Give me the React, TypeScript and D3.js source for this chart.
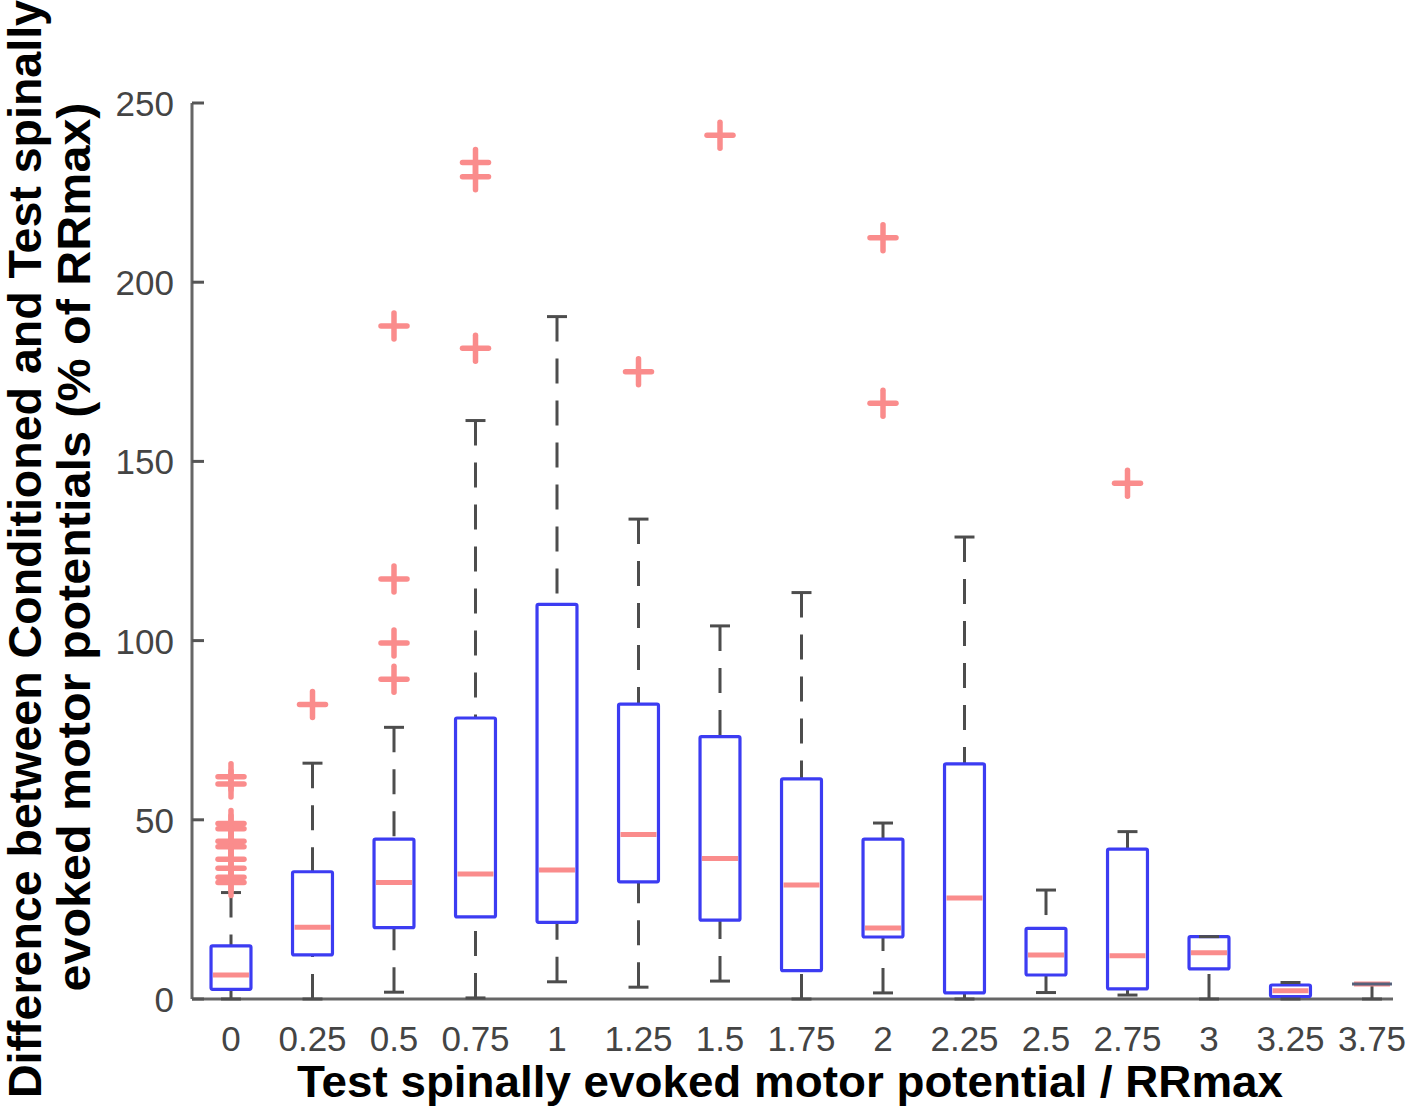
import React from "react";
import * as d3 from "d3";

const categories = ["0", "0.25", "0.5", "0.75", "1", "1.25", "1.5", "1.75", "2", "2.25", "2.5", "2.75", "3", "3.25", "3.75"];
const q1 = [2.7, 12.3, 19.9, 22.9, 21.4, 32.7, 22.0, 7.9, 17.3, 1.7, 6.7, 2.8, 8.4, 0.7, 4.2];
const medians = [6.7, 20.0, 32.5, 34.9, 36.0, 45.9, 39.2, 31.8, 19.8, 28.2, 12.3, 12.1, 12.9, 2.3, 4.2];
const q3 = [14.8, 35.5, 44.6, 78.4, 110.1, 82.3, 73.2, 61.4, 44.6, 65.6, 19.7, 41.8, 17.4, 3.9, 4.2];
const whiskerLow = [0, 0, 1.9, 0.3, 4.8, 3.3, 5.0, 0, 1.7, 0, 1.8, 1.1, 0, 0, 0];
const whiskerHigh = [29.7, 65.8, 75.8, 161.4, 190.4, 133.9, 104.1, 113.4, 49.1, 128.9, 30.4, 46.7, 17.4, 4.6, 4.2];
const outliers: number[][] = [
  [62, 60, 49, 47.5, 44, 42.5, 39, 36.5, 34, 32.5],
  [82.2],
  [89.2, 99.3, 117.2, 187.8],
  [181.6, 229.4, 233.4],
  [],
  [175],
  [241],
  [],
  [166.2, 212.4],
  [],
  [],
  [143.9],
  [],
  [],
  [],
];
const yTicks = [0, 50, 100, 150, 200, 250];

const W = 1409;
const H = 1113;

export default function App() {
  const y = d3.scaleLinear().domain([0, 250]).range([999, 103]);
  const x = d3.scaleLinear().domain([0, categories.length - 1]).range([231, 1372]);
  const step = x(1) - x(0);
  const boxW = step * 0.49;
  const capW = boxW * 0.5;
  const axisLeft = 192;
  const axisRight = 1393;

  const boxColor = "#3c3cf2";
  const redColor = "#fa8c8c";
  const whiskColor = "#4d4d4d";
  const plusSize = 13;

  return (
    <svg
      width={W}
      height={H}
      style={{ position: "absolute", left: 0, top: 0, background: "#fff" }}
      fontFamily="Liberation Sans, Arial, sans-serif"
    >
      <rect x={0} y={0} width={W} height={H} fill="#fff" />
      {/* axes */}
      <line x1={axisLeft} y1={y(250)} x2={axisLeft} y2={y(0)} stroke="#666" strokeWidth={3} />
      <line x1={axisLeft} y1={y(0)} x2={axisRight} y2={y(0)} stroke="#666" strokeWidth={3} />
      {yTicks.map((t) => (
        <g key={t}>
          <line x1={axisLeft} x2={axisLeft + 12} y1={y(t)} y2={y(t)} stroke="#555" strokeWidth={3} />
          <text x={174} y={y(t)} dy="0.37em" textAnchor="end" fontSize={35} fill="#444">
            {t}
          </text>
        </g>
      ))}
      {categories.map((c, i) => (
        <text key={c} x={x(i)} y={1051} textAnchor="middle" fontSize={35} fill="#444">
          {c}
        </text>
      ))}

      {categories.map((c, i) => {
        const cx = x(i);
        const flat = q3[i] <= q1[i];
        const cw = flat ? boxW : capW;
        return (
          <g key={"b" + c}>
            {whiskerHigh[i] > q3[i] && (
              <line
                x1={cx}
                x2={cx}
                y1={y(whiskerHigh[i])}
                y2={y(q3[i])}
                stroke={whiskColor}
                strokeWidth={3}
                strokeDasharray="25,17"
              />
            )}
            {whiskerLow[i] < q1[i] && (
              <line
                x1={cx}
                x2={cx}
                y1={y(whiskerLow[i])}
                y2={y(q1[i])}
                stroke={whiskColor}
                strokeWidth={3}
                strokeDasharray="25,17"
              />
            )}
            <rect
              x={cx - boxW / 2}
              y={y(q3[i])}
              width={boxW}
              height={Math.max(0, y(q1[i]) - y(q3[i]))}
              fill="none"
              stroke={boxColor}
              strokeWidth={3.2}
              rx={1.5}
            />
            <line
              x1={cx - boxW / 2 + 2}
              x2={cx + boxW / 2 - 2}
              y1={y(medians[i])}
              y2={y(medians[i])}
              stroke={redColor}
              strokeWidth={5}
            />
            <line x1={cx - cw / 2} x2={cx + cw / 2} y1={y(whiskerHigh[i])} y2={y(whiskerHigh[i])} stroke={flat ? "#55607a" : whiskColor} strokeWidth={3} />
            <line x1={cx - capW / 2} x2={cx + capW / 2} y1={y(whiskerLow[i])} y2={y(whiskerLow[i])} stroke={whiskColor} strokeWidth={3} />
            {outliers[i].map((v, k) => (
              <g key={k} stroke={redColor} strokeWidth={5.5} strokeLinecap="round">
                <line x1={cx - plusSize} x2={cx + plusSize} y1={y(v)} y2={y(v)} />
                <line x1={cx} x2={cx} y1={y(v) - plusSize} y2={y(v) + plusSize} />
              </g>
            ))}
          </g>
        );
      })}

      <text
        x={790}
        y={1097}
        textAnchor="middle"
        fontSize={44}
        fontWeight="bold"
        fill="#000"
        textLength={986}
        lengthAdjust="spacingAndGlyphs"
      >
        Test spinally evoked motor potential / RRmax
      </text>
      <g transform="translate(41,549) rotate(-90)">
        <text x={0} y={0} textAnchor="middle" fontSize={46} fontWeight="bold" fill="#000" textLength={1098} lengthAdjust="spacingAndGlyphs">
          Difference between Conditioned and Test spinally
        </text>
      </g>
      <g transform="translate(90,547) rotate(-90)">
        <text x={0} y={0} textAnchor="middle" fontSize={46} fontWeight="bold" fill="#000" textLength={889} lengthAdjust="spacingAndGlyphs">
          evoked motor potentials (% of RRmax)
        </text>
      </g>
    </svg>
  );
}
